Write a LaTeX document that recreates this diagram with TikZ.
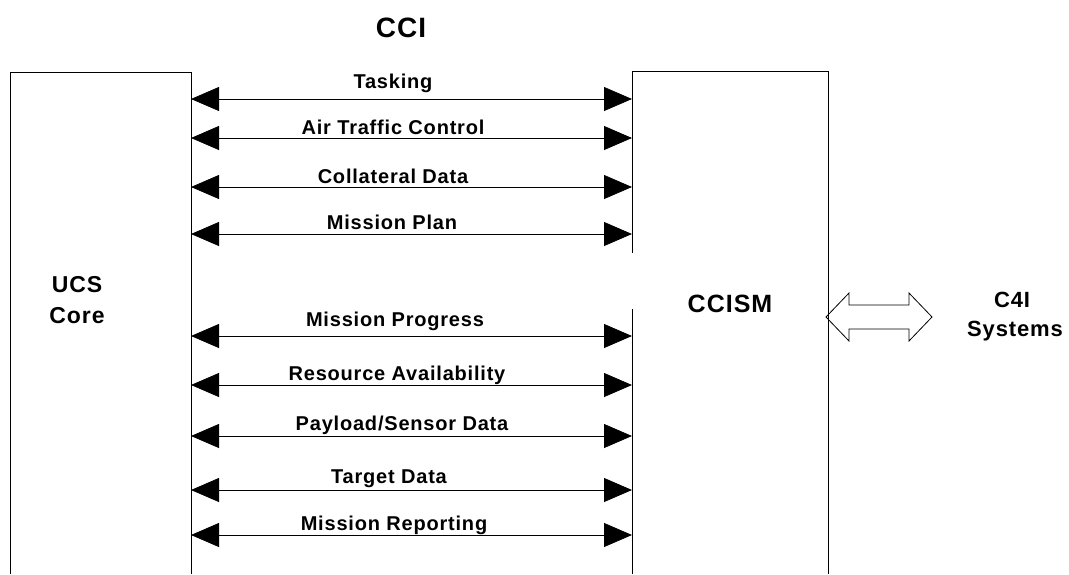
\documentclass[tikz,border=0pt]{standalone}
\usepackage{fontspec}
\setmainfont{Liberation Sans}[LetterSpace=4]
\usetikzlibrary{
    positioning,
    arrows.meta
}

\begin{document}
\begin{tikzpicture}[x=1pt, y=-1pt,
        flow/.style={{Triangle[length=28pt,width=24pt]}-{Triangle[length=28pt,width=24pt]}, line width=0.8pt},
        lbl/.style={font=\fontsize{20}{24}\selectfont\bfseries, inner sep=0pt, anchor=base},
        boxline/.style={line width=0.8pt}]
            \useasboundingbox (0,0) rectangle (1069,574);
            % UCS Core block, open at the bottom
            \coordinate (UA) at (10,574);
            \coordinate (UB) at (10,72);
            \coordinate (UC) at (191,72);
            \coordinate (UD) at (191,574);
            \draw[boxline] (UA)--(UB)--(UC)--(UD);

            % CCISM block, left side broken between the two groups
            \coordinate (MA) at (632,253);
            \coordinate (MB) at (632,71);
            \coordinate (MC) at (828,71);
            \coordinate (MD) at (828,574);
            \coordinate (ME) at (632,309);
            \coordinate (MF) at (632,574);
            \draw[boxline] (MA)--(MB)--(MC)--(MD) (ME)--(MF);

            \foreach \n/\ya/\yl/\xl/\txt in {1/99/88/393/Tasking, 2/138/134/393/Air Traffic Control,
                3/187/183/393/Collateral Data, 4/234/229/392/Mission Plan,
                5/336/326/395/Mission Progress, 6/385/380/397/Resource Availability,
                7/436/430/402/{Payload/Sensor Data}, 8/490/483/389/Target Data,
                9/535/530/394/Mission Reporting} {
                \coordinate (L\n) at (191,\ya);
                \coordinate (R\n) at (632,\ya);
                \draw[flow] (L\n)--(R\n);
                \node[lbl] (T\n) at (\xl,\yl) {\txt};
            }

            \node[lbl, font=\fontsize{28}{32}\selectfont\bfseries] (cci) at (401,37) {CCI};
            \node[lbl, font=\fontsize{23}{28}\selectfont\bfseries] (ucs) at (77,292) {UCS};
            \node[lbl, font=\fontsize{23}{28}\selectfont\bfseries] (core) at (77,323) {Core};
            \node[lbl, font=\fontsize{25}{30}\selectfont\bfseries] (ccism) at (730,312) {CCISM};
            \node[lbl, font=\fontsize{22}{26}\selectfont\bfseries] (c4i) at (1012,307) {C4I};
            \node[lbl, font=\fontsize{22}{26}\selectfont\bfseries] (sys) at (1015,336) {Systems};

            % link to the C4I systems
            \draw[boxline] (826,317) -- (849,293) -- (849,305) -- (909,305) -- (909,293)
                -- (932,317) -- (909,341) -- (909,329) -- (849,329) -- (849,341) -- cycle;
\end{tikzpicture}
\end{document}
